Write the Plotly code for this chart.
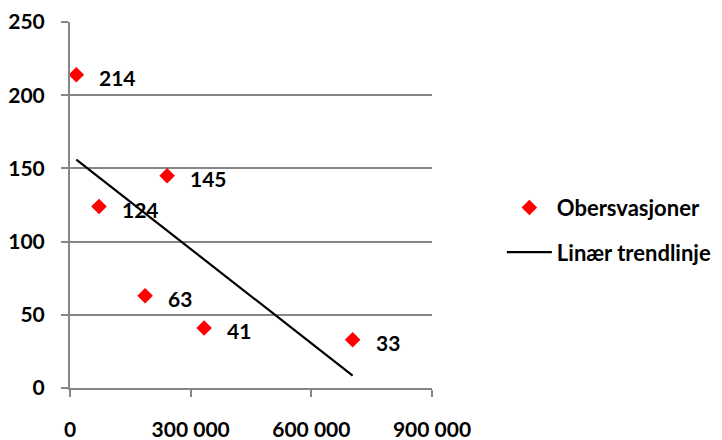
import plotly.graph_objects as go

# Data
obs_x = [15700, 72100, 241400, 186700, 333400, 702700]
obs_y = [214, 124, 145, 63, 41, 33]
obs_labels = ["214", "124", "145", "63", "41", "33"]

trend_x = [15700, 702700]
trend_y = [156, 8.5]

x_tickvals = [0, 300000, 600000, 900000]
x_ticktext = ["0", "300 000", "600 000", "900 000"]
y_tickvals = [0, 50, 100, 150, 200, 250]
y_ticktext = ["0", "50", "100", "150", "200", "250"]

FONT = "Lato"
GRID = "#868686"

def b(s):
    return "<b>" + s + "</b>"

fig = go.Figure()
fig.add_trace(go.Scatter(
    x=obs_x, y=obs_y, mode="markers", name=b("Obersvasjoner"),
    marker=dict(symbol="diamond", size=12, color="#FF0000"),
    legendgroup="a", cliponaxis=False,
))
fig.add_trace(go.Scatter(
    x=trend_x, y=trend_y, mode="lines", name=b("Linær trendlinje"),
    line=dict(color="#000000", width=2.2),
    legendgroup="b",
))

for xv, yv, lab in zip(obs_x, obs_y, obs_labels):
    fig.add_annotation(
        x=xv, y=yv, text=b(lab), showarrow=False,
        xanchor="left", yanchor="middle", xshift=21, yshift=-3,
        font=dict(family=FONT, size=21, color="#000000"),
    )

fig.update_layout(
    width=714, height=432,
    margin=dict(l=62, r=290, t=14, b=52, autoexpand=False),
    paper_bgcolor="white", plot_bgcolor="white",
    font=dict(family=FONT, size=21, color="#000000"),
    showlegend=True,
    legend=dict(
        x=1.193, y=0.55, xanchor="left", yanchor="top",
        traceorder="grouped", tracegroupgap=13, itemwidth=45,
        font=dict(family=FONT, size=22, color="#000000"),
        bgcolor="rgba(0,0,0,0)",
    ),
)

fig.update_xaxes(
    range=[0, 900000], tickvals=x_tickvals, ticktext=[b(t) for t in x_ticktext],
    showgrid=False, zeroline=False, automargin=False,
    showline=True, linecolor=GRID, linewidth=2,
    ticks="outside", ticklen=7, tickwidth=2, tickcolor=GRID,
    ticklabelstandoff=15,
    tickfont=dict(family=FONT, size=21, color="#000000"),
)
fig.update_yaxes(
    range=[0, 250], tickvals=y_tickvals, ticktext=[b(t) for t in y_ticktext],
    showgrid=True, gridcolor=GRID, gridwidth=2,
    zeroline=False, automargin=False,
    showline=True, linecolor=GRID, linewidth=2,
    ticks="outside", ticklen=7, tickwidth=2, tickcolor=GRID,
    ticklabelstandoff=12,
    tickfont=dict(family=FONT, size=21, color="#000000"),
)

fig.write_html("out.html")
